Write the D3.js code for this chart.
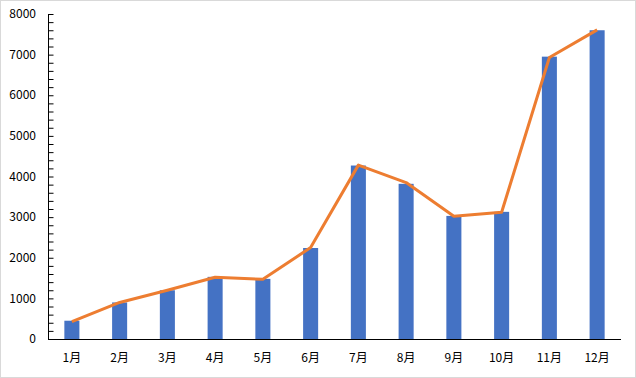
<!DOCTYPE html>
<html>
<head>
<meta charset="utf-8">
<script src="https://cdn.jsdelivr.net/npm/d3@7"></script>
<style>
	body { margin: 0; background: #fff; }
	#chart { width: 634px; height: 376px; border: 1px solid #d9d9d9; }
	text { font-family: "Microsoft YaHei", "Noto Sans CJK SC", sans-serif; font-size: 12px; fill: #000; }
</style>
</head>
<body>
<div id="chart"></div>
<script>
// months on the x axis
const months = ["1月", "2月", "3月", "4月", "5月", "6月", "7月", "8月", "9月", "10月", "11月", "12月"]
// bar values
const barValues = [450, 900, 1200, 1530, 1480, 2240, 4270, 3820, 3030, 3130, 6950, 7600]
// line values
const lineValues = [430, 900, 1200, 1520, 1470, 2250, 4280, 3850, 3020, 3120, 6930, 7610]
const yTicks = [0, 1000, 2000, 3000, 4000, 5000, 6000, 7000, 8000]

const width = 634, height = 376
const margin = {top: 13, right: 14, bottom: 38, left: 47}

let svg = d3.select("#chart").append("svg")
	.attr("width", width)
	.attr("height", height)

let xScale = d3.scaleBand()
	.domain(months)
	.range([margin.left, width - margin.right])
	.paddingInner(0.685)
	.paddingOuter(0.3425)

let yScale = d3.scaleLinear()
	.domain([0, 8000])
	.range([height - margin.bottom, margin.top])

// minor ticks every 200, drawn inside the plot
let yAxis = d3.axisRight(yScale)
	.tickValues(d3.range(0, 8001, 200))
	.tickSize(5)
	.tickFormat("")
svg.append("g")
	.attr("transform", `translate(${margin.left + 0.5},0)`)
	.call(yAxis)
	.call(g => g.select(".domain").remove())
	.selectAll("line").attr("stroke", "#000")

// labels
svg.append("g").selectAll("text")
	.data(yTicks)
	.join("text")
	.attr("x", margin.left - 12)
	.attr("y", d => yScale(d))
	.attr("dy", "0.35em")
	.attr("text-anchor", "end")
	.text(d => d)

svg.append("g").selectAll("rect")
	.data(barValues)
	.join("rect")
	.attr("x", (d, i) => xScale(months[i]))
	.attr("y", d => yScale(d))
	.attr("width", xScale.bandwidth())
	.attr("height", d => yScale(0) - yScale(d))
	.attr("fill", "#4472C4")

let line = d3.line()
	.x((d, i) => xScale(months[i]) + xScale.bandwidth() / 2)
	.y(d => yScale(d))

svg.append("path")
	.datum(lineValues)
	.attr("d", line)
	.attr("fill", "none")
	.attr("stroke", "#ED7D31")
	.attr("stroke-width", 3)
	.attr("stroke-linejoin", "round")

// axis lines
svg.append("line")
	.attr("x1", margin.left + 0.5).attr("x2", margin.left + 0.5)
	.attr("y1", margin.top).attr("y2", yScale(0))
	.attr("stroke", "#000")
svg.append("line")
	.attr("x1", margin.left).attr("x2", width - margin.right)
	.attr("y1", yScale(0) + 0.5).attr("y2", yScale(0) + 0.5)
	.attr("stroke", "#000")

svg.append("g").selectAll("text")
	.data(months)
	.join("text")
	.attr("x", d => xScale(d) + xScale.bandwidth() / 2)
	.attr("y", yScale(0) + 19)
	.attr("dy", "0.35em")
	.attr("text-anchor", "middle")
	.text(d => d)
</script>
</body>
</html>
